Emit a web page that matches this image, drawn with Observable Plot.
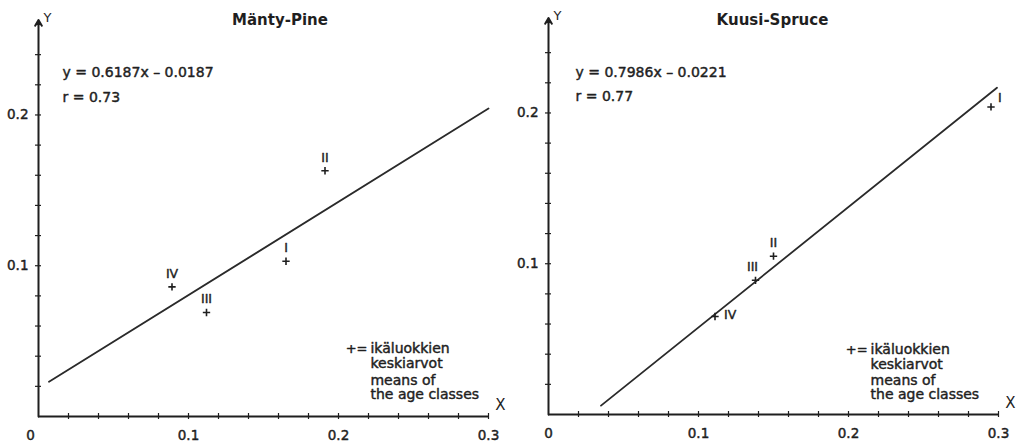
<!DOCTYPE html>
<html>
<head>
<meta charset="utf-8">
<script src="https://cdn.jsdelivr.net/npm/d3@7"></script>
<script src="https://cdn.jsdelivr.net/npm/@observablehq/plot@0.6"></script>
<style>
  html, body { margin: 0; padding: 0; background: #ffffff; }
  #chart { display: flex; width: 1017px; height: 442px; }
</style>
</head>
<body>
<div id="chart"></div>
<script>
// ---- Data ----
const ageClasses = ["I", "II", "III", "IV"];

// Mänty (Pine): age-class means
const pineX = [0.165, 0.191, 0.112, 0.089];
const pineY = [0.103, 0.163, 0.069, 0.086];
// Spruce (Kuusi): age-class means
const spruceX = [0.295, 0.150, 0.138, 0.111];
const spruceY = [0.204, 0.105, 0.089, 0.065];

// Regression lines (end points as drawn)
const pineLineX = [0.007, 0.300];
const pineLineY = [0.0230, 0.2043];
const spruceLineX = [0.035, 0.299];
const spruceLineY = [0.0059, 0.2167];

// Titles and statistics
const titles = ["Mänty-Pine", "Kuusi-Spruce"];
const equations = ["y = 0.6187x – 0.0187", "y = 0.7986x – 0.0221"];
const correlations = ["r = 0.73", "r = 0.77"];
const legendFi = "ikäluokkien\nkeskiarvot";
const legendEn = "means of\nthe age classes";

// Axes
const xMinorTicks = [0.02, 0.04, 0.06, 0.08, 0.10, 0.12, 0.14, 0.16, 0.18, 0.20, 0.22, 0.24, 0.26, 0.28, 0.30];
const yMinorTicks = [0.02, 0.04, 0.06, 0.08, 0.10, 0.12, 0.14, 0.16, 0.18, 0.20, 0.22, 0.24, 0.26];
const xTickValues = [0, 0.1, 0.2, 0.3];
const xTickLabels = ["0", "0.1", "0.2", "0.3"];
const yTickValues = [0.1, 0.2];
const yTickLabels = ["0.1", "0.2"];

// ---- Drawing ----
const INK = "#1f1f1f";
const FONT = "'DejaVu Sans', 'Liberation Sans', sans-serif";
const heavy = {fill: INK, stroke: INK, strokeWidth: 0.45};

function panel(cfg) {
  const pts = cfg.x.map((x, i) => ({x, y: cfg.y[i], label: ageClasses[i]}));
  const line = cfg.lineX.map((x, i) => ({x, y: cfg.lineY[i]}));
  const groups = {};
  pts.forEach(p => {
    const k = cfg.placement[p.label] || "above";
    (groups[k] = groups[k] || []).push(p);
  });
  const placeStyles = {
    above: {dx: 0, dy: -13, textAnchor: "middle"},
    aboveLeft: {dx: -3, dy: -13, textAnchor: "middle"},
    rightAbove: {dx: 7, dy: -9, textAnchor: "start"},
    right: {dx: 9, dy: -2, textAnchor: "start"}
  };
  const labelMarks = Object.entries(groups).map(([k, arr]) =>
    Plot.text(arr, {x: "x", y: "y", text: "label", fontSize: 12.5, ...heavy, ...placeStyles[k]}));

  return Plot.plot({
    width: cfg.width,
    height: 442,
    marginLeft: cfg.ml,
    marginRight: cfg.mr,
    marginTop: cfg.mt,
    marginBottom: cfg.mb,
    x: {domain: [0, 0.3], axis: null},
    y: {domain: [0, 0.26], axis: null},
    style: {background: "transparent", overflow: "visible", color: INK, fontFamily: FONT},
    marks: [
      // axes
      Plot.ruleY([0], {x1: 0, x2: 0.3, stroke: INK, strokeWidth: 2}),
      Plot.arrow([0], {x1: 0, y1: 0, x2: 0, y2: 0.263, stroke: INK, strokeWidth: 2, headLength: 5}),
      Plot.ruleX(xMinorTicks, {x: d => d, y1: -0.002, y2: 0.002, stroke: INK, strokeWidth: 1.2}),
      Plot.ruleY(yMinorTicks, {y: d => d, x1: -0.002, x2: 0.002, stroke: INK, strokeWidth: 1.2}),
      Plot.text(xTickValues, {x: d => d, y: 0, text: (d, i) => xTickLabels[i], dy: 19, dx: cfg.zeroShift, fontSize: 13.5, ...heavy,
        filter: d => d === 0}),
      Plot.text(xTickValues, {x: d => d, y: 0, text: (d, i) => xTickLabels[i], dy: 19, fontSize: 13.5, ...heavy,
        filter: d => d !== 0}),
      Plot.text(yTickValues, {x: 0, y: d => d, text: (d, i) => yTickLabels[i], dx: -10, textAnchor: "end", fontSize: 13.5, ...heavy}),
      Plot.text(["Y"], {x: 0, y: cfg.axisTop, text: d => d, dx: 5, dy: -4, textAnchor: "start", fontSize: 13, fill: INK}),
      Plot.text(["X"], {x: 0.3, y: 0, text: d => d, dx: 12, dy: -11, textAnchor: "middle", fontSize: 15, fill: INK}),
      // title & stats
      Plot.text([cfg.title], {x: cfg.titleX, y: cfg.titleY, text: d => d, fontSize: 15, fontWeight: "bold", letterSpacing: 1.1, fill: INK}),
      Plot.text([cfg.equation], {x: cfg.eqX, y: cfg.eqY, text: d => d, textAnchor: "start", fontSize: 14, ...heavy}),
      Plot.text([cfg.r], {x: cfg.eqX, y: cfg.rY, text: d => d, textAnchor: "start", fontSize: 14, ...heavy}),
      // legend
      Plot.text(["+="], {x: cfg.legX, y: cfg.legPlusY, text: d => d, dx: -3, textAnchor: "end", fontSize: 13, letterSpacing: 1, ...heavy}),
      Plot.text([legendFi], {x: cfg.legX, y: cfg.legY1, text: d => d, textAnchor: "start", fontSize: 14, lineHeight: 1.07, ...heavy}),
      Plot.text([legendEn], {x: cfg.legX, y: cfg.legY2, text: d => d, textAnchor: "start", fontSize: 14, lineHeight: 1.0, ...heavy}),
      // regression line
      Plot.line(line, {x: "x", y: "y", stroke: "#2a2a2a", strokeWidth: 1.8}),
      // points
      Plot.dot(pts, {x: "x", y: "y", symbol: "plus", r: 2.5, stroke: INK, strokeWidth: 1.6}),
      ...labelMarks
    ]
  });
}

const left = panel({
  width: 509, ml: 38, mr: 21, mt: 24, mb: 26,
  x: pineX, y: pineY, lineX: pineLineX, lineY: pineLineY,
  placement: {},
  zeroShift: -8, axisTop: 0.262,
  title: titles[0], titleX: 0.161, titleY: 0.2626,
  equation: equations[0], r: correlations[0], eqX: 0.016, eqY: 0.228, rY: 0.2115,
  legPlusY: 0.0451, legX: 0.2213, legY1: 0.0401, legY2: 0.0192
});
const right = panel({
  width: 508, ml: 39, mr: 19, mt: 22, mb: 28,
  x: spruceX, y: spruceY, lineX: spruceLineX, lineY: spruceLineY,
  placement: {I: "rightAbove", III: "aboveLeft", IV: "right"},
  zeroShift: 0, axisTop: 0.262,
  title: titles[1], titleX: 0.1493, titleY: 0.2613,
  equation: equations[1], r: correlations[1], eqX: 0.018, eqY: 0.2268, rY: 0.2109,
  legPlusY: 0.0431, legX: 0.2147, legY1: 0.0385, legY2: 0.0182
});
document.getElementById("chart").append(left, right);
</script>
</body>
</html>
